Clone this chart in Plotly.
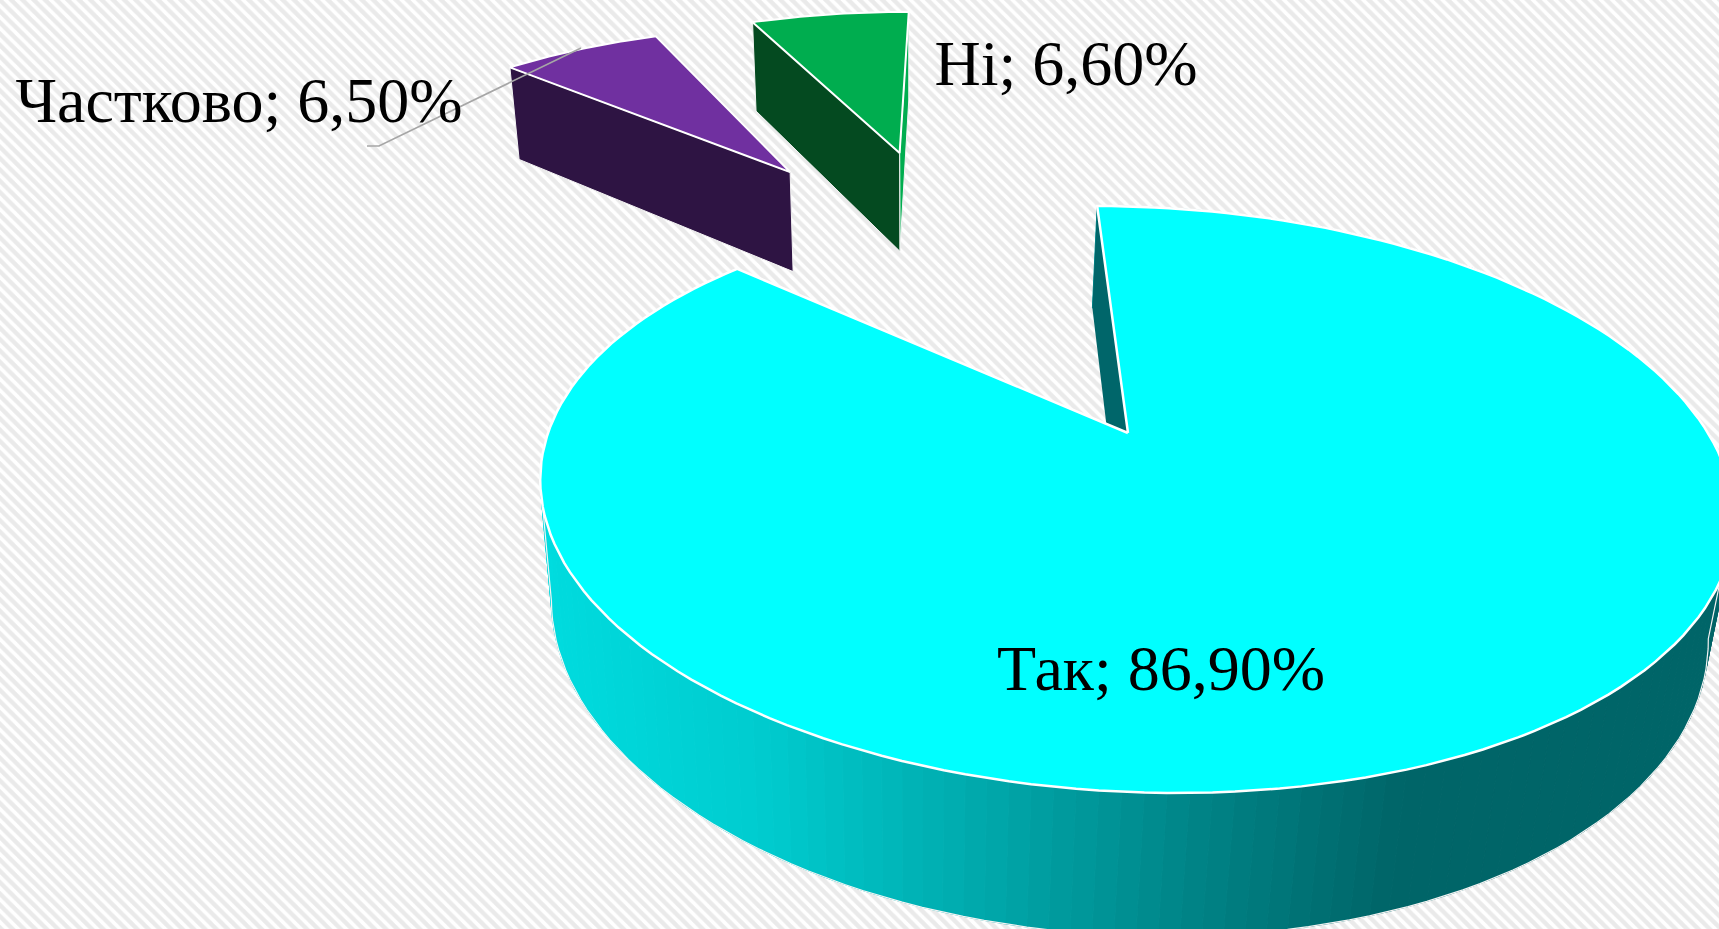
import numpy as np
import plotly.graph_objects as go

# Data
categories = ["Так", "Частково", "Ні"]
values = [86.9, 6.5, 6.6]

# Styles and layout
W, H = 1719, 929
top_colors = ["#00FFFF", "#7030A0", "#00AD4F"]
front_colors = ["#00666A", "#2E1443", "#044A20"]
explode_u = [0.0, -0.662, -0.425]
explode_v = [0.0, 1.19, 1.302]
label_x = [1161, 239, 1066]
label_y = [674, 106, 69]
leader_x = [581, 379, 367]
leader_y = [48, 146, 146]
rim_x = [543, 760, 1000, 1200, 1403, 1719]
rim_g = [220, 204, 166, 132, 101, 101]


def top(u, v):
    w = 1 + 0.2266 * v
    return 961 + (167 + 580 * u) / w, 433 - 278.4 * v / w


def bottom(u, v):
    x, y = top(u, v)
    drop = 87 / (1 + 0.2266 * v) + 31
    return x + (910 - x) * 0.00025 * drop, y + drop


def poly(px, py, fill, line=None, width=0):
    return go.Scatter(
        x=np.asarray(px), y=np.asarray(py), mode="lines", fill="toself", fillcolor=fill,
        line=dict(color=line or fill, width=width), hoverinfo="skip", showlegend=False,
    )


def wall(u0, v0, u1, v1, fill, edge="#FFFFFF", width=1):
    ax, ay = top(u0, v0)
    bx, by = top(u1, v1)
    cx, cy = bottom(u1, v1)
    dx, dy = bottom(u0, v0)
    return poly([ax, bx, cx, dx, ax], [ay, by, cy, dy, ay], fill, edge, width)


fig = go.Figure()
fig.add_trace(go.Scatter(
    x=[0, W, W, 0, 0], y=[0, 0, H, H, 0], mode="lines", fill="toself",
    line=dict(width=0), hoverinfo="skip", showlegend=False,
    fillcolor="#FFFFFF",
    fillpattern=dict(shape="\\", size=8, solidity=0.55, fgcolor="#D6D6D6", bgcolor="#FFFFFF"),
))

# Slice angles come from the values, clockwise from the back of the pie.
share = np.asarray(values) / sum(values) * 2 * np.pi
start = np.concatenate(([0.0], np.cumsum(share)[:-1]))
end = start + share

# Main slice: shaded rim, gap wall, top face
a = np.linspace(start[0], end[0], 181)
cu, cv = np.sin(a), np.cos(a)
for i in range(len(a) - 1):
    qx0, qy0 = top(cu[i:i + 2], cv[i:i + 2])
    qx1, qy1 = bottom(cu[i:i + 2], cv[i:i + 2])
    g = int(np.interp(qx0.mean(), rim_x, rim_g))
    col = f"rgb(0,{g},{min(g + 3, 255)})"
    fig.add_trace(poly(
        np.r_[qx0, qx1[::-1], qx0[0]], np.r_[qy0, qy1[::-1], qy0[0]], col, col, 1,
    ))
# Outer silhouette of the rim: only the part of the lower arc that faces the viewer
lx, ly = bottom(cu, cv)
ux, uy = top(cu, cv)
first, last = int(np.argmax(lx)), int(np.argmin(lx))
sil_x = np.r_[ux[int(np.argmax(ux))], lx[first:last + 1], ux[int(np.argmin(ux))]]
sil_y = np.r_[uy[int(np.argmax(ux))], ly[first:last + 1], uy[int(np.argmin(ux))]]
fig.add_trace(go.Scatter(x=sil_x, y=sil_y, mode="lines", line=dict(color="#F4F4F4", width=1.2),
                         hoverinfo="skip", showlegend=False))
fig.add_trace(wall(0, 0, np.sin(start[0]), np.cos(start[0]), front_colors[0], front_colors[0], 0))
tx, ty = top(np.r_[0, cu, 0], np.r_[0, cv, 0])
fig.add_trace(poly(tx, ty, top_colors[0], "#FFFFFF", 2.5))

# Detached slices
for k in (1, 2):
    a = np.linspace(start[k], end[k], 40)
    su = np.sin(a) + explode_u[k]
    sv = np.cos(a) + explode_v[k]
    au, av = explode_u[k], explode_v[k]
    if k == 2:
        fig.add_trace(wall(au, av, su[-1], sv[-1], top_colors[k], "#F4F4F4", 1))
    fig.add_trace(wall(su[0], sv[0], au, av, front_colors[k], "#F4F4F4", 1))
    tx, ty = top(np.r_[au, su, au], np.r_[av, sv, av])
    fig.add_trace(poly(tx, ty, top_colors[k], "#FFFFFF", 2))

# Leader line
fig.add_trace(go.Scatter(x=leader_x, y=leader_y, mode="lines",
                         line=dict(color="#A6A6A6", width=1.7),
                         hoverinfo="skip", showlegend=False))

# Labels
labels = [f"{c}; {v:.2f}%".replace(".", ",") for c, v in zip(categories, values)]
fig.add_trace(go.Scatter(
    x=label_x, y=label_y, mode="text", text=labels, textposition="middle center",
    textfont=dict(family="Liberation Serif", size=64, color="#000000"),
    hoverinfo="skip", showlegend=False,
))

fig.update_layout(
    width=W, height=H, margin=dict(l=0, r=0, t=0, b=0), autosize=False,
    paper_bgcolor="#FFFFFF", plot_bgcolor="#FFFFFF", showlegend=False,
    xaxis=dict(range=[0, W], visible=False, fixedrange=True),
    yaxis=dict(range=[H, 0], visible=False, fixedrange=True),
)
fig.write_html(
    "out.html",
    config=dict(displayModeBar=False),
    post_script="document.body.style.margin='0';document.body.style.overflow='hidden';",
)
